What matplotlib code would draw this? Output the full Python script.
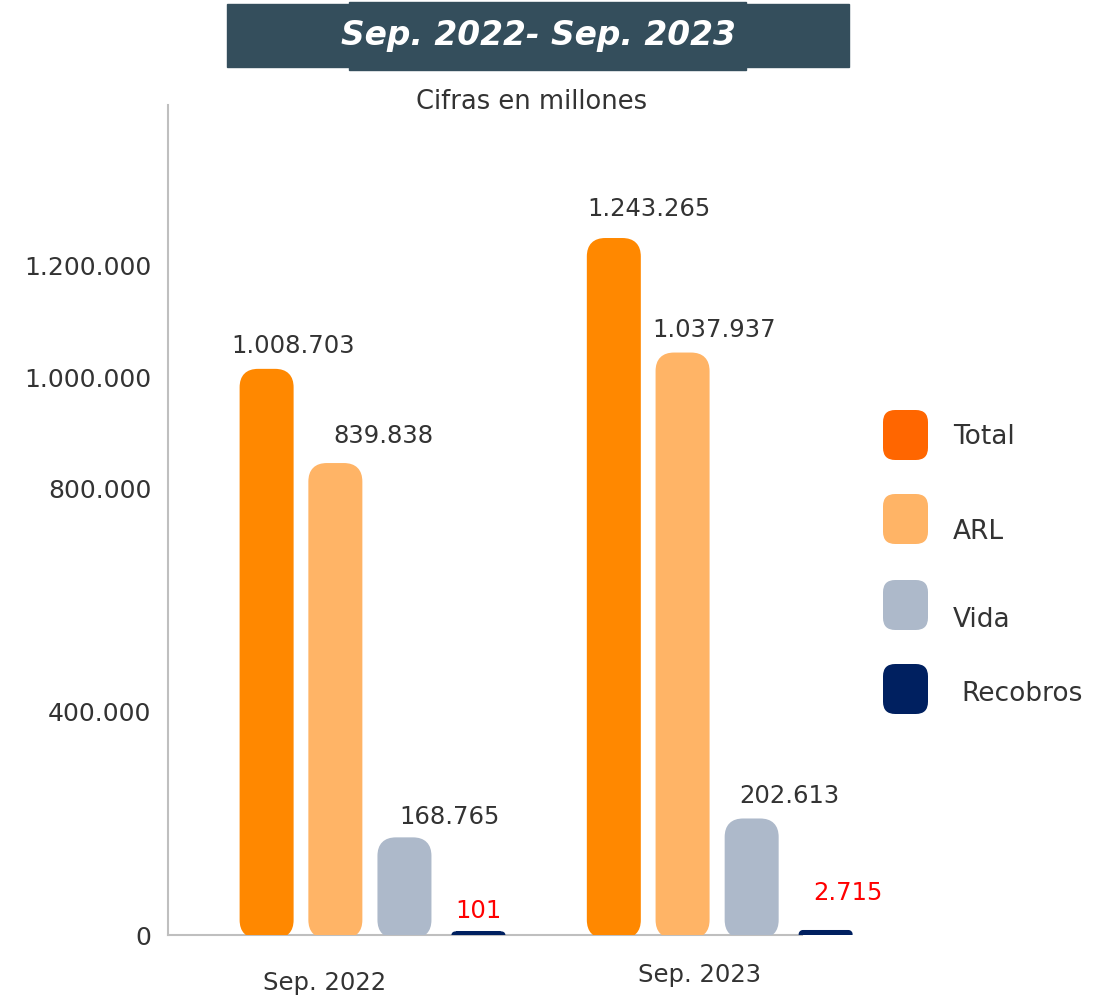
import matplotlib
matplotlib.use("Agg")
import matplotlib.pyplot as plt
from matplotlib.patches import FancyBboxPatch, Rectangle
from matplotlib.transforms import blended_transform_factory

# ---- data -------------------------------------------------------------
periods = ["Sep. 2022", "Sep. 2023"]
series = ["Total", "ARL", "Vida", "Recobros"]
total = [1008703, 1243265]
arl = [839838, 1037937]
vida = [168765, 202613]
recobros = [101, 2715]
y_ticks = [0, 400000, 800000, 1000000, 1200000]

title = "Sep. 2022- Sep. 2023"
subtitle = "Cifras en millones"

# ---- styling ----------------------------------------------------------
bar_colors = ["#FF8800", "#FFB466", "#ADB9CA", "#002060"]
legend_colors = ["#FF6600", "#FFB466", "#ADB9CA", "#002060"]
label_colors = ["#333333", "#333333", "#333333", "#FF0000"]
text_color = "#333333"
header_color = "#344E5C"
axis_color = "#BFBFBF"

W, H = 1110, 996
plt.rcParams["font.family"] = ["DejaVu Sans"]

fig = plt.figure(figsize=(W / 100, H / 100), dpi=100)


def fx(px):
    return px / W


def fy(py):
    return 1 - py / H


# plot area
ax_left, ax_right, ax_top, ax_bottom = 168, 860, 105, 935
ax = fig.add_axes([fx(ax_left), fy(ax_bottom), fx(ax_right - ax_left),
                   (ax_bottom - ax_top) / H])

y_max = 1488000
x_min, x_max = -0.586, 1.407
ax.set_xlim(x_min, x_max)
ax.set_ylim(0, y_max)

offsets = [-0.302, -0.104, 0.095, 0.308]
x_px_per_unit = (ax_right - ax_left) / (x_max - x_min)
y_px_per_unit = (ax_bottom - ax_top) / y_max
stroke_px = 7
bar_w = (54 - stroke_px) / x_px_per_unit
values = [total, arl, vida, recobros]

# horizontal / vertical scale factors so the corners stay circular
aspect = x_px_per_unit / y_px_per_unit
radius = 15 / x_px_per_unit

for s, vals in enumerate(values):
    xs = [g + offsets[s] for g in range(len(periods))]
    bars = ax.bar(xs, vals, width=bar_w, color=bar_colors[s])
    for b in bars:
        x0, y0 = b.get_x(), b.get_y()
        w, h = b.get_width(), b.get_height()
        b.set_visible(False)
        r = min(radius, 0.5 * h / aspect, 0.5 * w)
        patch = FancyBboxPatch((x0, y0), w, h,
                               boxstyle=f"round,pad=0,rounding_size={r}",
                               mutation_aspect=aspect,
                               facecolor=bar_colors[s], edgecolor=bar_colors[s],
                               linewidth=stroke_px * 0.72, joinstyle="round",
                               zorder=3)
        ax.add_patch(patch)

# value labels
label_nudge = [[27, 35], [48, 32], [45, 38], [0, 22]]  # px, to the right
label_lift = [[10, 16], [14, 10], [8, 10], [8, 24]]    # px above bar


def fmt(v):
    return f"{v:,.0f}".replace(",", ".")


for s, vals in enumerate(values):
    for g, v in enumerate(vals):
        ax.annotate(fmt(v), xy=(g + offsets[s], v),
                    xytext=(label_nudge[s][g] * 0.72, label_lift[s][g] * 0.72 + 3),
                    textcoords="offset points", ha="center", va="bottom",
                    fontsize=17.5, color=label_colors[s], zorder=4)

# axes decoration
for side in ["top", "right"]:
    ax.spines[side].set_visible(False)
ax.spines["left"].set_color(axis_color)
ax.spines["left"].set_linewidth(1.5)
ax.spines["bottom"].set_color(axis_color)
ax.spines["bottom"].set_linewidth(1.5)
ax.spines["bottom"].set_bounds(x_min, 1 + offsets[3] - bar_w / 2)

ax.set_yticks(y_ticks)
ax.set_yticklabels([fmt(t) for t in y_ticks])
ax.tick_params(axis="y", length=0, pad=12, labelsize=18, labelcolor=text_color)
ax.set_xticks([])

# period labels under each group
period_nudge = [-0.134, -0.054]
period_y = [983, 975]
period_tf = blended_transform_factory(ax.transData, fig.transFigure)
for g, name in enumerate(periods):
    ax.text(g + period_nudge[g], fy(period_y[g]), name, transform=period_tf,
            ha="center", va="center", fontsize=17.5, color=text_color)

# header banner
fig.patches.append(Rectangle((fx(227), fy(67)), fx(849 - 227), (67 - 4) / H,
                             transform=fig.transFigure, color=header_color, zorder=0))
fig.patches.append(Rectangle((fx(349), fy(70)), fx(746 - 349), (70 - 2) / H,
                             transform=fig.transFigure, color=header_color, zorder=0))
fig.text(fx(538), fy(36), title, ha="center", va="center", fontsize=23.7,
         fontweight="bold", fontstyle="italic", color="white")
fig.text(fx(532), fy(102), subtitle, ha="center", va="center", fontsize=18.5,
         color=text_color)

# legend
legend_box_top = [410, 494, 580, 664]
legend_text = [(953, 437), (953, 532), (953, 620), (961, 694)]
for s, name in enumerate(series):
    top = legend_box_top[s]
    box = FancyBboxPatch((fx(883), fy(top + 50)), fx(45), 50 / H,
                         boxstyle="round,pad=0,rounding_size=0.011",
                         mutation_aspect=W / H,
                         transform=fig.transFigure, facecolor=legend_colors[s],
                         edgecolor="none")
    fig.patches.append(box)
    fig.text(fx(legend_text[s][0]), fy(legend_text[s][1]), name,
             ha="left", va="center", fontsize=19, color=text_color)

fig.savefig("out.png", dpi=100, facecolor="white")
